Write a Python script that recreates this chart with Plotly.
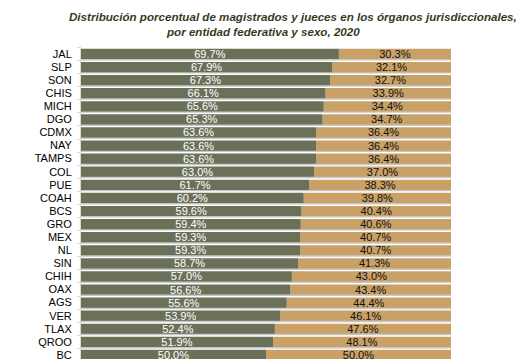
import plotly.graph_objects as go

estados = ["JAL", "SLP", "SON", "CHIS", "MICH", "DGO", "CDMX", "NAY", "TAMPS", "COL",
           "PUE", "COAH", "BCS", "GRO", "MEX", "NL", "SIN", "CHIH", "OAX", "AGS",
           "VER", "TLAX", "QROO", "BC"]
hombres = [69.7, 67.9, 67.3, 66.1, 65.6, 65.3, 63.6, 63.6, 63.6, 63.0,
           61.7, 60.2, 59.6, 59.4, 59.3, 59.3, 58.7, 57.0, 56.6, 55.6,
           53.9, 52.4, 51.9, 50.0]
mujeres = [30.3, 32.1, 32.7, 33.9, 34.4, 34.7, 36.4, 36.4, 36.4, 37.0,
           38.3, 39.8, 40.4, 40.6, 40.7, 40.7, 41.3, 43.0, 43.4, 44.4,
           46.1, 47.6, 48.1, 50.0]

total = [h + m for h, m in zip(hombres, mujeres)]
lbl_font = "Liberation Sans, Arial"

fig = go.Figure()
# shadow under each bar
fig.add_trace(go.Bar(
    y=estados, x=total, base=0, orientation="h", width=0.78, offset=-0.28,
    marker=dict(color="#C6C6C6", line=dict(width=0)), hoverinfo="skip", showlegend=False))
fig.add_trace(go.Bar(
    y=estados, x=hombres, base=0, orientation="h", width=0.78, name="Hombres",
    marker=dict(color="#6B7158", line=dict(width=0)),
    text=[f"{v:.1f}%" for v in hombres], textposition="inside", insidetextanchor="middle",
    constraintext="none", cliponaxis=False,
    textfont=dict(color="#FFFFFF", size=11, family=lbl_font),
    showlegend=False))
fig.add_trace(go.Bar(
    y=estados, x=mujeres, base=hombres, orientation="h", width=0.78, name="Mujeres",
    marker=dict(color="#C9A066", line=dict(width=0)),
    text=[f"{v:.1f}%" for v in mujeres], textposition="inside", insidetextanchor="middle",
    constraintext="none", cliponaxis=False,
    textfont=dict(color="#111111", size=11, family=lbl_font),
    showlegend=False))

# page body has an 8px margin: figure origin sits at (8, 8)
OX, OY = 8, 8
W, H = 528 - OX, 361 - OY
ml, mt = 81 - OX, 47 - OY
mr = 528 - 451
pw, ph = W - ml - mr, H - mt

title_font = dict(family=lbl_font, size=11.6, color="#363A1E")
fig.update_layout(
    width=W, height=H,
    margin=dict(l=ml, r=mr, t=mt, b=0, pad=0),
    barmode="overlay",
    plot_bgcolor="white", paper_bgcolor="white",
    uniformtext=dict(minsize=11, mode="show"),
    xaxis=dict(range=[0, 100], visible=False, fixedrange=True),
    yaxis=dict(
        type="category", categoryorder="array", categoryarray=estados,
        range=[23.31, -0.53],
        showline=True, linecolor="#D9D9D9", linewidth=1,
        ticks="outside", tickson="boundaries", ticklen=3, tickcolor="#D9D9D9",
        showgrid=False, zeroline=False,
        tickfont=dict(family=lbl_font, size=11, color="#000000"),
        ticklabelstandoff=6),
    annotations=[
        dict(text="<b><i>Distribución porcentual de magistrados y jueces en los órganos jurisdiccionales,</i></b>",
             xref="paper", yref="paper", x=(293 - 81) / pw, y=(361 - 16) / ph,
             xanchor="center", yanchor="middle", showarrow=False, font=title_font),
        dict(text="<b><i>por entidad federativa y sexo, 2020</i></b>",
             xref="paper", yref="paper", x=(263 - 81) / pw, y=(361 - 31) / ph,
             xanchor="center", yanchor="middle", showarrow=False, font=title_font),
    ],
)

fig.write_html("out.html")
